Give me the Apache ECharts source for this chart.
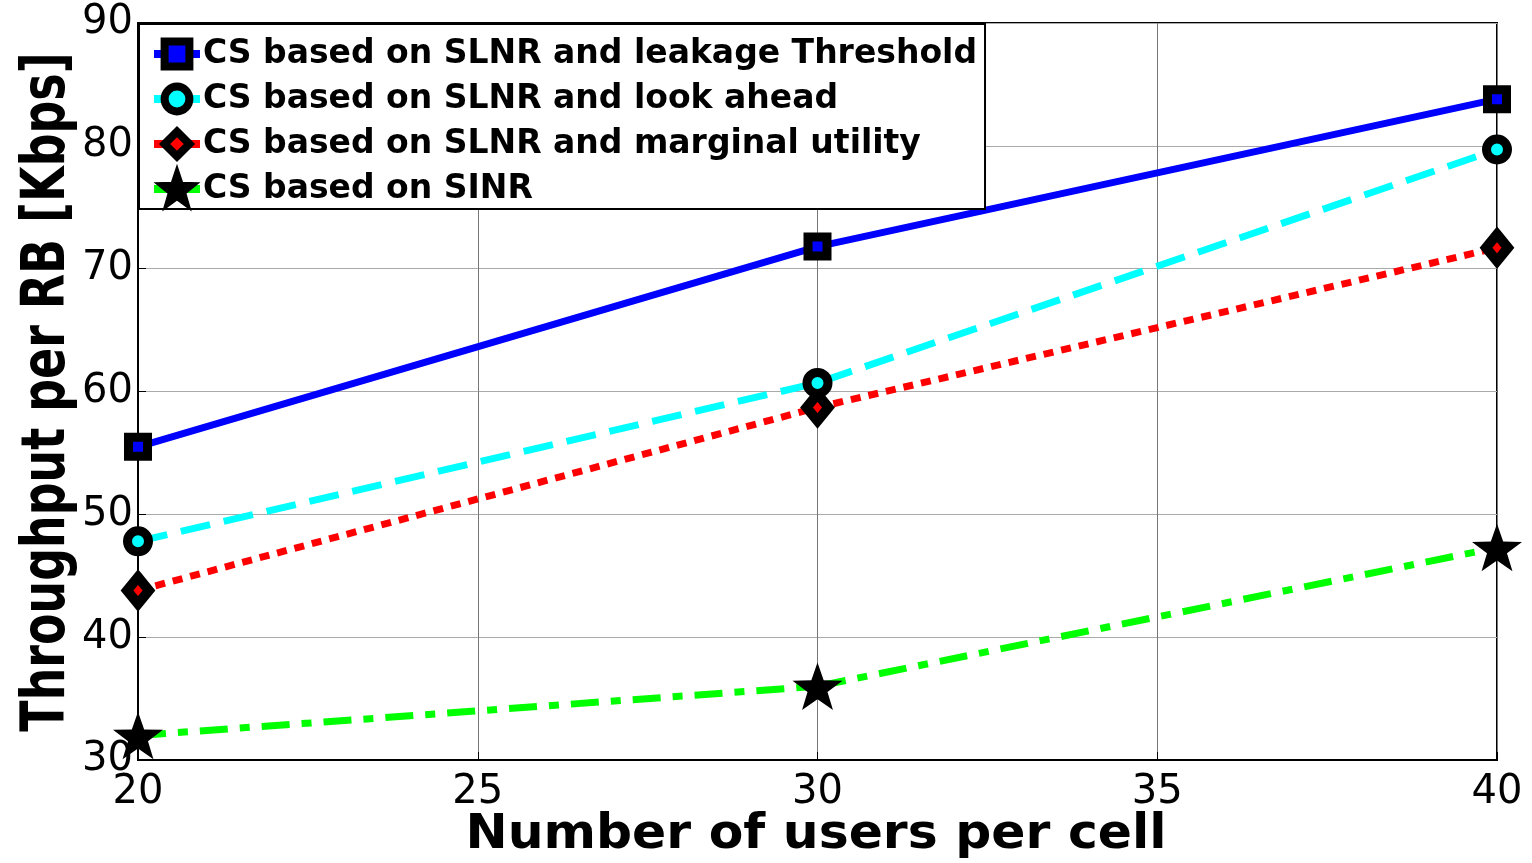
<!DOCTYPE html>
<html>
<head>
<meta charset="utf-8">
<script src="https://cdn.jsdelivr.net/npm/echarts@6/dist/echarts.min.js"></script>
<style>
  html, body { margin: 0; padding: 0; background: #fff; }
  #myChart { width: 1532px; height: 863px; }
</style>
</head>
<body>
<div id="myChart"></div>
<script>
  // data
  var users = [20, 30, 40];
  var leakage = [55.5, 71.8, 83.8];
  var lookAhead = [47.8, 60.7, 79.7];
  var marginal = [43.8, 58.7, 71.7];
  var sinr = [32.0, 36.0, 47.3];
  var names = [
    'CS based on SLNR and leakage Threshold',
    'CS based on SLNR and look ahead',
    'CS based on SLNR and marginal utility',
    'CS based on SINR'
  ];
  var xTitle = 'Number of users per cell';
  var yTitle = 'Throughput per RB [Kbps]';

  var star = 'path://M0,-10 L2.35,-3.24 L9.51,-3.09 L3.8,1.24 L5.88,8.09 L0,4 L-5.88,8.09 L-3.8,1.24 L-9.51,-3.09 L-2.35,-3.24 Z';
  var font = 'DejaVu Sans';

  function pairs(arr) {
    return users.map(function (u, i) { return [u, arr[i]]; });
  }

  var myChart = echarts.init(document.getElementById('myChart'));

  myChart.setOption({
    backgroundColor: '#fff',
    animation: false,
    grid: {
      left: 138, right: 35, top: 23, bottom: 103,
      containLabel: false, outerBoundsMode: 'none',
      show: true, borderColor: '#000', borderWidth: 2, backgroundColor: 'transparent'
    },
    legend: {
      orient: 'vertical',
      left: 139, top: 24,
      backgroundColor: '#fff',
      borderColor: '#000', borderWidth: 2, borderRadius: 0,
      padding: [12, 8, 2, 11],
      itemGap: 9,
      itemWidth: 46, itemHeight: 31,
      lineStyle: { width: 8, type: 'solid' },
      itemStyle: { borderColor: '#000', borderWidth: 8 },
      textStyle: { fontFamily: font, fontWeight: 'bold', fontSize: 33, lineHeight: 36, color: '#000', padding: [0, 0, 0, -2] },
      data: names
    },
    // axis titles: the y title in the original is a tall, narrow bold face
    graphic: [
      {
        type: 'text', x: 816, y: 836, scaleX: 1.05, silent: true,
        style: { text: xTitle, fill: '#000', font: 'bold 48px "DejaVu Sans"', align: 'center', verticalAlign: 'middle' }
      },
      {
        type: 'text', x: 48, y: 392, rotation: Math.PI / 2, scaleX: 0.765, silent: true,
        style: { text: yTitle, fill: '#000', font: 'bold 60px "DejaVu Sans"', align: 'center', verticalAlign: 'middle' }
      }
    ],
    xAxis: {
      type: 'value', min: 20, max: 40, interval: 5,
      axisLine: { show: true, lineStyle: { color: '#000', width: 2 } },
      axisTick: { show: true, inside: true, length: 8, lineStyle: { color: '#000' } },
      axisLabel: { fontFamily: font, fontSize: 40, color: '#000', margin: 13 },
      splitLine: { show: true, lineStyle: { color: '#777', width: 1 } }
    },
    yAxis: {
      type: 'value', min: 30, max: 90, interval: 10,
      axisLine: { show: true, lineStyle: { color: '#000', width: 2 } },
      axisTick: { show: true, inside: true, length: 8, lineStyle: { color: '#000' } },
      axisLabel: { fontFamily: font, fontSize: 40, color: '#000', margin: 5 },
      splitLine: { show: true, lineStyle: { color: '#aaa', width: 1 } }
    },
    series: [
      {
        name: names[0], type: 'line', data: pairs(leakage),
        symbol: 'rect', symbolSize: 19,
        lineStyle: { color: '#0000ff', width: 7, type: 'solid' },
        itemStyle: { color: '#0000ff', borderColor: '#000', borderWidth: 9 },
        z: 2
      },
      {
        name: names[1], type: 'line', data: pairs(lookAhead),
        symbol: 'circle', symbolSize: 21,
        lineStyle: { color: '#00ffff', width: 7, type: [30, 14] },
        itemStyle: { color: '#00ffff', borderColor: '#000', borderWidth: 9 },
        z: 3
      },
      {
        name: names[2], type: 'line', data: pairs(marginal),
        symbol: 'diamond', symbolSize: [22, 27],
        lineStyle: { color: '#ff0000', width: 7, type: [10, 8] },
        itemStyle: { color: '#ff0000', borderColor: '#000', borderWidth: 10 },
        z: 2
      },
      {
        name: names[3], type: 'line', data: pairs(sinr),
        symbol: star, symbolSize: 50, symbolKeepAspect: true,
        lineStyle: { color: '#00ff00', width: 7, type: [28, 12, 10, 12] },
        itemStyle: { color: '#000', borderColor: '#000', borderWidth: 0 },
        z: 2
      }
    ]
  });
</script>
</body>
</html>
